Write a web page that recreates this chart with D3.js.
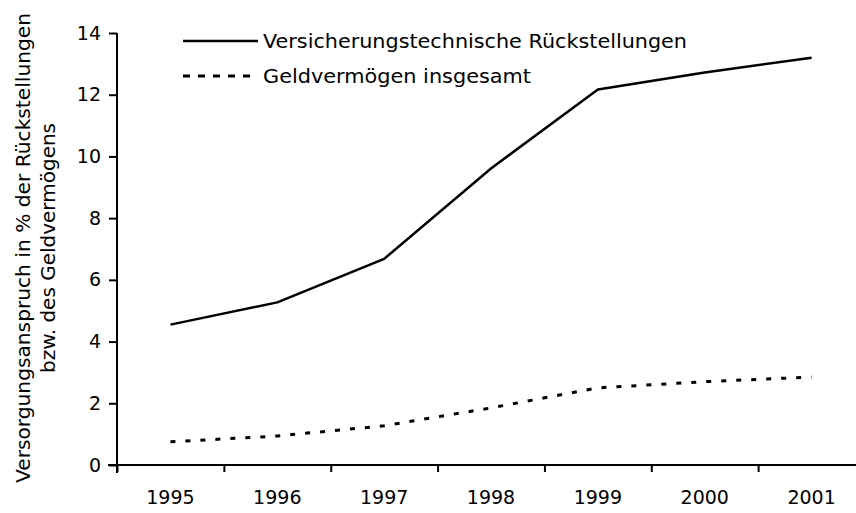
<!DOCTYPE html>
<html>
<head>
<meta charset="utf-8">
<script src="https://cdn.jsdelivr.net/npm/d3@7"></script>
<style>
  html, body { margin: 0; padding: 0; background: #fff; }
  svg { display: block; }
  text { font-family: "DejaVu Sans", sans-serif; fill: #000; }
</style>
</head>
<body>
<svg id="chart" width="856" height="513"></svg>
<script>
const years = ["1995", "1996", "1997", "1998", "1999", "2000", "2001"];
const rueckstellungen = [4.55, 5.27, 6.68, 9.61, 12.17, 12.72, 13.2];
const geldvermoegen = [0.75, 0.94, 1.27, 1.85, 2.5, 2.7, 2.85];
const yTicks = [0, 2, 4, 6, 8, 10, 12, 14];
const seriesNames = ["Versicherungstechnische Rückstellungen", "Geldvermögen insgesamt"];
const yTitle = ["Versorgungsanspruch in % der Rückstellungen", "bzw. des Geldvermögens"];

const svg = d3.select("#chart");
const mLeft = 117, mRight = 865, mTop = 33, mBottom = 465;
const fsTick = 19, fsText = 20;

const x = d3.scaleBand().domain(years).range([mLeft, mRight]).paddingInner(0).paddingOuter(0);
const xb = d3.scaleLinear().domain([0, years.length]).range([mLeft, mRight]);
const y = d3.scaleLinear().domain([0, 14]).range([mBottom, mTop]);

// x axis: boundary ticks
const gxb = svg.append("g").attr("transform", `translate(0,${mBottom})`)
  .call(d3.axisBottom(xb).tickValues(d3.range(0, years.length + 1)).tickFormat("").tickSize(7).tickSizeOuter(0));
gxb.select(".domain").remove();
gxb.selectAll("line").attr("stroke", "#000").attr("stroke-width", 2);

// x axis labels
const gx = svg.append("g").attr("transform", `translate(0,${mBottom})`)
  .call(d3.axisBottom(x).tickSize(0).tickPadding(26));
gx.select(".domain").remove();
gx.selectAll("text").attr("font-size", fsTick).style("font-family", "DejaVu Sans, sans-serif").attr("fill", "#000");

// x axis line
svg.append("line").attr("x1", mLeft - 9).attr("x2", mRight).attr("y1", mBottom).attr("y2", mBottom)
  .attr("stroke", "#000").attr("stroke-width", 2);

// y axis
const gy = svg.append("g").attr("transform", `translate(${mLeft},0)`)
  .call(d3.axisLeft(y).tickValues(yTicks).tickSize(8).tickSizeOuter(0).tickPadding(8));
gy.select(".domain").remove();
gy.selectAll("line").attr("stroke", "#000").attr("stroke-width", 2);
gy.selectAll("text").attr("font-size", fsTick).style("font-family", "DejaVu Sans, sans-serif").attr("fill", "#000");
svg.append("line").attr("x1", mLeft).attr("x2", mLeft).attr("y1", mTop).attr("y2", mBottom + 8)
  .attr("stroke", "#000").attr("stroke-width", 2);

// y title
const cy = 248;
yTitle.forEach((t, i) => {
  const tx = svg.append("text")
    .attr("transform", `translate(${30 + i * 25},${cy}) rotate(-90)`)
    .attr("text-anchor", "middle")
    .attr("font-size", fsText)
    .text(t);
  if (i === 0) tx.attr("textLength", 470).attr("lengthAdjust", "spacingAndGlyphs");
});

// lines
const line = d3.line().x((d, i) => x(years[i]) + x.bandwidth() / 2).y(d => y(d));
svg.append("path").datum(rueckstellungen).attr("d", line)
  .attr("fill", "none").attr("stroke", "#000").attr("stroke-width", 2.5).attr("stroke-linejoin", "round");
svg.append("path").datum(geldvermoegen).attr("d", line)
  .attr("fill", "none").attr("stroke", "#000").attr("stroke-width", 3).attr("stroke-dasharray", "5,10");

// legend
const leg = [{ y: 41, dash: null, len: 424 }, { y: 76, dash: "7,8", len: 268 }];
leg.forEach((l, i) => {
  const ln = svg.append("line").attr("x1", 183).attr("x2", 258).attr("y1", l.y).attr("y2", l.y)
    .attr("stroke", "#000").attr("stroke-width", i === 0 ? 2.5 : 3);
  if (l.dash) ln.attr("stroke-dasharray", l.dash);
  svg.append("text").attr("x", 263).attr("y", l.y + 7)
    .attr("font-size", fsText)
    .attr("textLength", l.len).attr("lengthAdjust", "spacingAndGlyphs")
    .text(seriesNames[i]);
});
</script>
</body>
</html>
